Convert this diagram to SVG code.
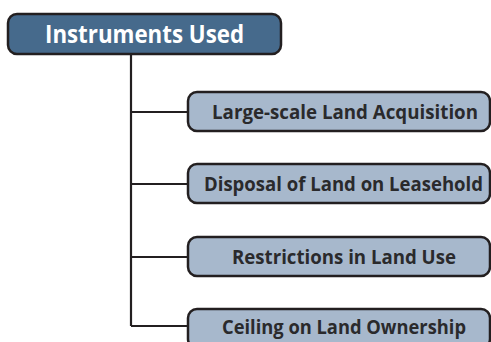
<svg xmlns="http://www.w3.org/2000/svg" width="491" height="342" viewBox="0 0 491 342">
<style>
.root rect{fill:#466a8c;stroke:#231f20;stroke-width:2.5}
.child rect{fill:#a7b8cc;stroke:#231f20;stroke-width:2.5}
.root text{fill:#ffffff;font-family:"Open Sans","DejaVu Sans",sans-serif;font-weight:700;font-size:25px;text-anchor:middle}
.child text{fill:#2a2a2c;font-family:"Open Sans","DejaVu Sans",sans-serif;font-weight:700;font-size:19px;text-anchor:middle}
.conn{fill:none;stroke:#231f20;stroke-width:2.2}
</style>
<rect width="491" height="342" fill="#ffffff"/>
<g id="connectors">
<path class="conn" d="M131 54 V326 M131 112 H188 M131 184 H188 M131 257 H188 M131 326 H188"/>
</g>
<g id="root" class="root">
<rect x="8" y="14" width="273" height="40" rx="9"/>
<text x="144.5" y="42.5" textLength="199" lengthAdjust="spacingAndGlyphs">Instruments Used</text>
</g>
<g id="n1" class="child">
<rect x="188" y="92" width="302" height="39" rx="9"/>
<text x="345" y="118.5" textLength="266" lengthAdjust="spacingAndGlyphs">Large-scale Land Acquisition</text>
</g>
<g id="n2" class="child">
<rect x="188" y="164" width="302" height="39" rx="9"/>
<text x="343.5" y="190.5" textLength="279" lengthAdjust="spacingAndGlyphs">Disposal of Land on Leasehold</text>
</g>
<g id="n3" class="child">
<rect x="188" y="237" width="302" height="39" rx="9"/>
<text x="344" y="263.5" textLength="224" lengthAdjust="spacingAndGlyphs">Restrictions in Land Use</text>
</g>
<g id="n4" class="child">
<rect x="188" y="309" width="302" height="39" rx="9"/>
<text x="344" y="333.5" textLength="244" lengthAdjust="spacingAndGlyphs">Ceiling on Land Ownership</text>
</g>
</svg>
